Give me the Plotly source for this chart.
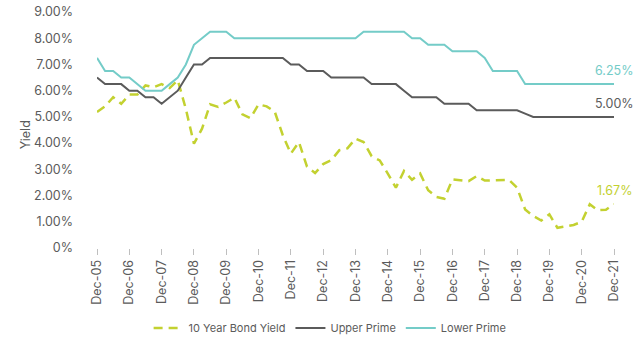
import plotly.graph_objects as go

# Quarterly observations, Dec-05 through Dec-21
quarters = []
for yr in range(5, 22):
    for mon in ["Mar", "Jun", "Sep", "Dec"]:
        if yr == 5 and mon != "Dec":
            continue
        quarters.append(f"{mon}-{yr:02d}")
        if yr == 21 and mon == "Dec":
            break

bond_yield = [
    5.19, 5.40, 5.75, 5.50, 5.85, 5.85, 6.20, 6.13, 6.25, 6.10,
    6.40, 5.30, 3.98, 4.55, 5.48, 5.38, 5.55, 5.73, 5.10, 4.95,
    5.48, 5.40, 5.20, 4.30, 3.60, 4.04, 3.10, 2.86, 3.20, 3.35,
    3.73, 3.80, 4.17, 4.04, 3.50, 3.34, 2.84, 2.30, 2.94, 2.60,
    2.84, 2.20, 1.95, 1.88, 2.62, 2.58, 2.55, 2.74, 2.57, 2.58,
    2.58, 2.60, 2.30, 1.47, 1.22, 1.05, 1.28, 0.77, 0.82, 0.88,
    1.00, 1.67, 1.44, 1.46, 1.67,
]

upper_prime = [
    6.50, 6.25, 6.25, 6.25, 6.00, 6.00, 5.75, 5.75, 5.50, 5.75,
    6.00, 6.50, 7.00, 7.00, 7.25, 7.25, 7.25, 7.25, 7.25, 7.25,
    7.25, 7.25, 7.25, 7.25, 7.00, 7.00, 6.75, 6.75, 6.75, 6.50,
    6.50, 6.50, 6.50, 6.50, 6.25, 6.25, 6.25, 6.25, 6.00, 5.75,
    5.75, 5.75, 5.75, 5.50, 5.50, 5.50, 5.50, 5.25, 5.25, 5.25,
    5.25, 5.25, 5.25, 5.125, 5.00, 5.00, 5.00, 5.00, 5.00, 5.00,
    5.00, 5.00, 5.00, 5.00, 5.00,
]

lower_prime = [
    7.25, 6.75, 6.75, 6.50, 6.50, 6.25, 6.00, 6.00, 6.00, 6.25,
    6.50, 7.00, 7.75, 8.00, 8.25, 8.25, 8.25, 8.00, 8.00, 8.00,
    8.00, 8.00, 8.00, 8.00, 8.00, 8.00, 8.00, 8.00, 8.00, 8.00,
    8.00, 8.00, 8.00, 8.25, 8.25, 8.25, 8.25, 8.25, 8.25, 8.00,
    8.00, 7.75, 7.75, 7.75, 7.50, 7.50, 7.50, 7.50, 7.25, 6.75,
    6.75, 6.75, 6.75, 6.25, 6.25, 6.25, 6.25, 6.25, 6.25, 6.25,
    6.25, 6.25, 6.25, 6.25, 6.25,
]

y_ticks = [0, 1, 2, 3, 4, 5, 6, 7, 8, 9]
y_tick_text = ["0%"] + [f"{v:.2f}%" for v in y_ticks[1:]]

GREEN = "#C3D130"
GREY = "#5B5B5B"
TEAL = "#74CCC8"
TEXT = "#5B5B5B"
FONT = "Inter, Open Sans, sans-serif"

x_idx = list(range(len(quarters)))
dec_idx = [i for i, q in enumerate(quarters) if q.startswith("Dec")]
dec_text = [quarters[i] for i in dec_idx]

fig = go.Figure()
fig.add_trace(go.Scatter(
    x=x_idx, y=bond_yield, mode="lines", name="10 Year Bond Yield",
    line=dict(color=GREEN, width=2.5, dash="9px,6px"),
))
fig.add_trace(go.Scatter(
    x=x_idx, y=upper_prime, mode="lines", name="Upper Prime",
    line=dict(color=GREY, width=2),
))
fig.add_trace(go.Scatter(
    x=x_idx, y=lower_prime, mode="lines", name="Lower Prime",
    line=dict(color=TEAL, width=2),
))

# End-of-series value labels
last = len(quarters) - 1
for series, color in [(lower_prime, TEAL), (upper_prime, GREY), (bond_yield, GREEN)]:
    fig.add_annotation(
        x=last, y=series[-1], text=f"{series[-1]:.2f}%",
        showarrow=False, xanchor="center", yanchor="bottom", yshift=4,
        font=dict(family=FONT, size=12.5, color=color),
    )

# Y-axis title placed beside the tick labels
fig.add_annotation(
    xref="paper", yref="paper", x=-0.139, y=0.478, text="Yield",
    textangle=-90, showarrow=False, xanchor="center", yanchor="middle",
    font=dict(family=FONT, size=12.5, color=TEXT),
)

fig.update_layout(
    width=641, height=337,
    margin=dict(l=97, r=27, t=12, b=89, autoexpand=False),
    paper_bgcolor="white", plot_bgcolor="white",
    font=dict(family=FONT, size=12, color=TEXT),
    showlegend=True,
    legend=dict(
        orientation="h", xref="container", yref="container",
        x=0.515, y=0.027, xanchor="center", yanchor="middle",
        font=dict(family=FONT, size=11, color=TEXT),
        itemwidth=30, tracegroupgap=0,
    ),
    xaxis=dict(
        range=[0, last], tickmode="array", tickvals=dec_idx, ticktext=dec_text,
        tickangle=-90, showgrid=False, zeroline=False, showline=False,
        ticks="outside", ticklen=6, tickcolor="#BFBFBF", tickwidth=1,
        tickfont=dict(family=FONT, size=12.5, color=TEXT),
    ),
    yaxis=dict(
        range=[0, 9], tickmode="array", tickvals=y_ticks, ticktext=y_tick_text,
        showgrid=False, zeroline=False, showline=False,
        tickfont=dict(family=FONT, size=12.5, color=TEXT),
        ticklabelstandoff=23,
    ),
)

fig.write_html("out.html")
